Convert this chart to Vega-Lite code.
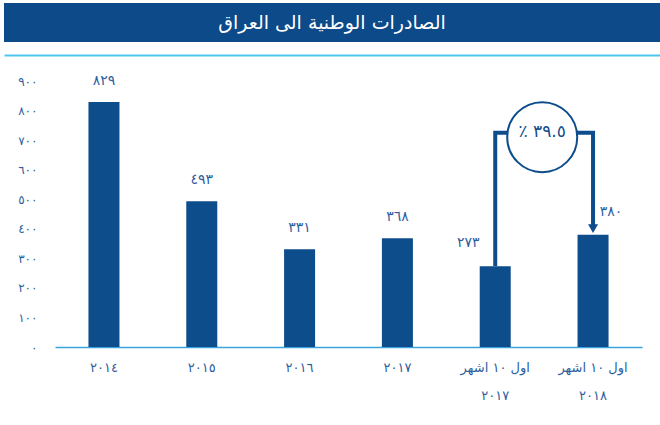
{
  "$schema": "https://vega.github.io/schema/vega-lite/v6.json",
  "background": "white",
  "padding": {"left": 4, "top": 3, "right": 0, "bottom": 4},
  "config": {"view": {"stroke": null}, "font": "DejaVu Sans"},
  "spacing": 18,
  "bounds": "full",
  "vconcat": [
    {
      "width": 656,
      "height": 39,
      "view": {"fill": "#0d4a8a", "stroke": null},
      "data": {"values": [{"t": "الصادرات الوطنية الى العراق"}]},
      "mark": {"type": "text", "color": "white", "fontSize": 19, "font": "DejaVu Sans", "baseline": "middle", "align": "center"},
      "encoding": {
        "x": {"field": "t", "type": "nominal", "axis": {"title": null, "labels": false, "ticks": false, "domainColor": "#4cc6ee", "domainWidth": 2, "offset": 13}},
        "text": {"field": "t"}
      }
    },
    {
      "width": 638,
      "height": 266,
      "encoding": {
        "x": {
          "field": "period", "type": "nominal", "sort": null,
          "scale": {"range": [51, 638], "paddingInner": 0.683, "paddingOuter": 0.342},
          "axis": {
            "title": null, "ticks": false, "domainColor": "#3aa3dc", "domainWidth": 1.5,
            "labelColor": "#2e5e9e", "labelFontSize": 13, "labelAngle": 0, "labelPadding": 14,
            "labelLineHeight": 28, "labelFont": "DejaVu Sans",
            "labelExpr": "length(datum.value) > 5 ? [slice(datum.value, 0, length(datum.value) - 5), slice(datum.value, length(datum.value) - 4)] : datum.value"
          }
        },
        "y": {
          "field": "value", "type": "quantitative",
          "scale": {"domain": [0, 900], "nice": false},
          "axis": {
            "title": null, "offset": -51,
            "values": [0, 100, 200, 300, 400, 500, 600, 700, 800, 900],
            "labelOverlap": false,
            "grid": false, "ticks": false, "domain": false,
            "labelColor": "#2e5e9e", "labelFontSize": 12, "labelPadding": 18, "labelFont": "DejaVu Sans",
            "labelExpr": "['٠','١٠٠','٢٠٠','٣٠٠','٤٠٠','٥٠٠','٦٠٠','٧٠٠','٨٠٠','٩٠٠'][round(datum.value / 100)]"
          }
        }
      },
      "layer": [
        {
          "data": {"name": "bars"},
          "mark": {"type": "bar", "color": "#0e4d8c"}
        },
        {
          "data": {"name": "bars"},
          "transform": [{"filter": "datum.pos == 'top'"}],
          "mark": {"type": "text", "color": "#2e5e9e", "fontSize": 14, "baseline": "middle", "dy": -21},
          "encoding": {"text": {"field": "label"}}
        },
        {
          "data": {"name": "bars"},
          "transform": [{"filter": "datum.pos == 'left'"}],
          "mark": {"type": "text", "color": "#2e5e9e", "fontSize": 14, "baseline": "middle", "dy": -23, "dx": -27},
          "encoding": {"text": {"field": "label"}}
        },
        {
          "data": {"name": "bars"},
          "transform": [{"filter": "datum.pos == 'right'"}],
          "mark": {"type": "text", "color": "#2e5e9e", "fontSize": 14, "baseline": "middle", "dy": -23, "dx": 18},
          "encoding": {"text": {"field": "label"}}
        },
        {
          "data": {"name": "path"},
          "mark": {"type": "line", "color": "#0e4d8c", "strokeWidth": 4, "strokeCap": "butt", "strokeJoin": "miter"},
          "encoding": {"order": {"field": "step", "type": "quantitative"}}
        },
        {
          "data": {"name": "arrow"},
          "mark": {"type": "point", "shape": "triangle-down", "size": 100, "filled": true, "color": "#0e4d8c", "opacity": 1, "yOffset": -6}
        },
        {
          "data": {"name": "badge"},
          "mark": {"type": "point", "shape": "circle", "size": 4900, "filled": false, "fill": "white", "fillOpacity": 1, "stroke": "#0e4d8c", "strokeWidth": 2, "opacity": 1, "xOffset": 47}
        },
        {
          "data": {"name": "badge"},
          "mark": {"type": "text", "color": "#0e4d8c", "fontSize": 17, "baseline": "middle", "xOffset": 47, "yOffset": -5},
          "encoding": {"text": {"field": "label"}}
        }
      ]
    }
  ],
  "datasets": {
    "bars": [
      {"period": "٢٠١٤", "value": 829, "label": "٨٢٩", "pos": "top"},
      {"period": "٢٠١٥", "value": 493, "label": "٤٩٣", "pos": "top"},
      {"period": "٢٠١٦", "value": 331, "label": "٣٣١", "pos": "top"},
      {"period": "٢٠١٧", "value": 368, "label": "٣٦٨", "pos": "top"},
      {"period": "اول ١٠ اشهر ٢٠١٧", "value": 273, "label": "٢٧٣", "pos": "left"},
      {"period": "اول ١٠ اشهر ٢٠١٨", "value": 380, "label": "٣٨٠", "pos": "right"}
    ],
    "path": [
      {"period": "اول ١٠ اشهر ٢٠١٧", "value": 273, "step": 1},
      {"period": "اول ١٠ اشهر ٢٠١٧", "value": 725, "step": 2},
      {"period": "اول ١٠ اشهر ٢٠١٨", "value": 725, "step": 3},
      {"period": "اول ١٠ اشهر ٢٠١٨", "value": 405, "step": 4}
    ],
    "arrow": [
      {"period": "اول ١٠ اشهر ٢٠١٨", "value": 380}
    ],
    "badge": [
      {"period": "اول ١٠ اشهر ٢٠١٧", "value": 710, "label": "٪ ٣٩.٥"}
    ]
  }
}
